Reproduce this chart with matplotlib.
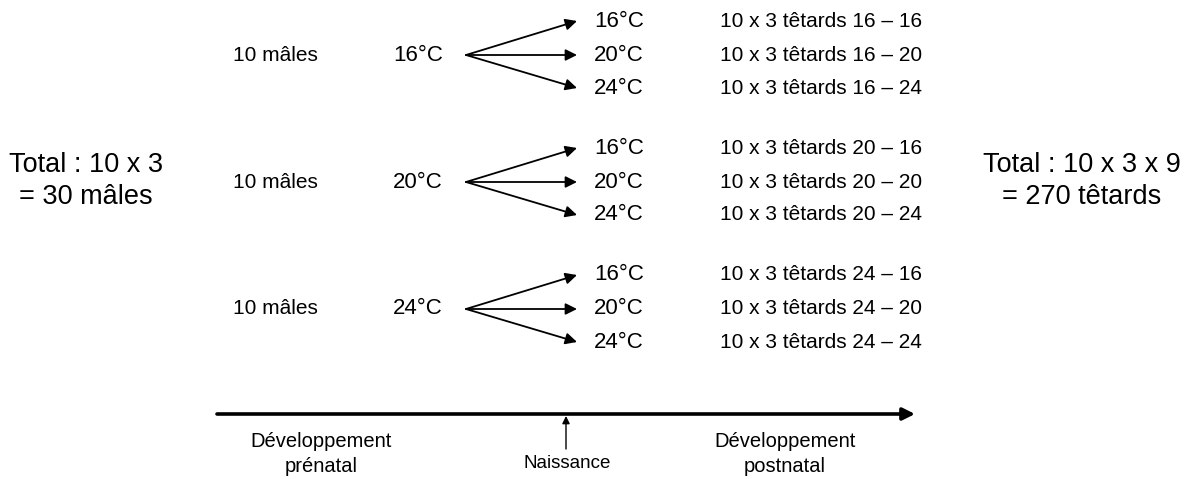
import matplotlib.pyplot as plt

plt.rcParams['font.family'] = ['Liberation Sans', 'DejaVu Sans']

# groupes de mâles (température prénatale) et températures postnatales
temp_pre = [16, 20, 24]
temp_post = [16, 20, 24]
nb_males = 10
nb_temp = 3

# positions (pixels) des lignes de chaque groupe
y_groupe = [55, 182, 309]
dy_sub = [-34, 0, 33]

fig = plt.figure(figsize=(11.89, 4.79), dpi=100)
ax = fig.add_axes([0, 0, 1, 1])
ax.set_xlim(0, 1189)
ax.set_ylim(479, 0)
ax.axis('off')

for tp, yg in zip(temp_pre, y_groupe):
    ax.text(233, yg, f'{nb_males} mâles', fontsize=15, ha='left', va='center')
    ax.text(393, yg, f'{tp}°C', fontsize=16, ha='left', va='center')
    for tq, d in zip(temp_post, dy_sub):
        ax.annotate('', xy=(577, yg + d), xytext=(466, yg),
                    arrowprops=dict(arrowstyle='-|>', color='black', lw=1.3,
                                    mutation_scale=17, shrinkA=0, shrinkB=0))
        ax.text(594, yg + d, f'{tq}°C', fontsize=16, ha='left', va='center')
        ax.text(720, yg + d, f'{nb_males} x {nb_temp} têtards {tp} – {tq}',
                fontsize=15, ha='left', va='center')

n_cond = len(temp_pre) * len(temp_post)
ax.text(86, 181, f'Total : {nb_males} x {nb_temp}\n= {nb_males * nb_temp} mâles',
        fontsize=19.5, ha='center', va='center', linespacing=1.25)
ax.text(1082, 181,
        f'Total : {nb_males} x {nb_temp} x {n_cond}\n= {nb_males * nb_temp * n_cond} têtards',
        fontsize=19.5, ha='center', va='center', linespacing=1.25)

# axe du temps
ax.annotate('', xy=(915, 414), xytext=(217, 414),
            arrowprops=dict(arrowstyle='-|>', color='black', lw=2.6,
                            mutation_scale=18, shrinkA=0, shrinkB=0))
ax.annotate('', xy=(566, 416), xytext=(566, 449),
            arrowprops=dict(arrowstyle='-|>', color='black', lw=1.0,
                            mutation_scale=11, shrinkA=0, shrinkB=0))
ax.text(567, 463, 'Naissance', fontsize=13.5, ha='center', va='center')
ax.text(321, 454, 'Développement\nprénatal', fontsize=14.5, ha='center', va='center',
        linespacing=1.4)
ax.text(785, 454, 'Développement\npostnatal', fontsize=14.5, ha='center', va='center',
        linespacing=1.4)

fig.savefig('out.png', dpi=100, facecolor='white')
